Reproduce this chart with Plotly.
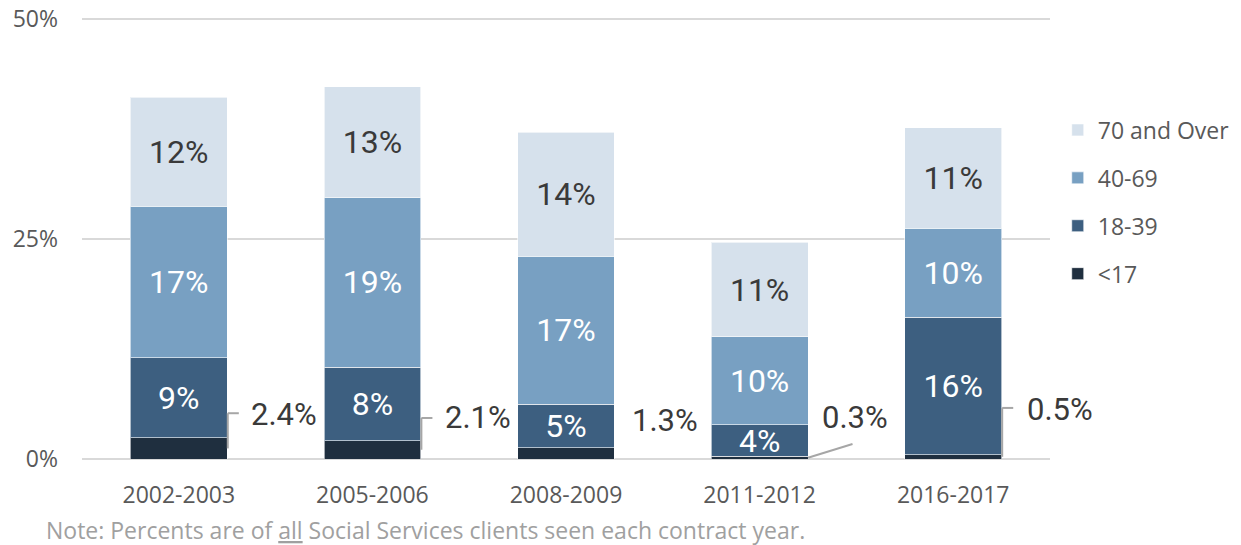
import plotly.graph_objects as go

years = ["2002-2003", "2005-2006", "2008-2009", "2011-2012", "2016-2017"]
under17 = [2.4, 2.1, 1.3, 0.3, 0.5]
age18_39 = [9.1, 8.3, 4.9, 3.6, 15.6]
age40_69 = [17.2, 19.3, 16.8, 10.0, 10.1]
age70_over = [12.4, 12.6, 14.1, 10.7, 11.4]

lbl_under17 = ["2.4%", "2.1%", "1.3%", "0.3%", "0.5%"]
lbl_18_39 = ["9%", "8%", "5%", "4%", "16%"]
lbl_40_69 = ["17%", "19%", "17%", "10%", "10%"]
lbl_70 = ["12%", "13%", "14%", "11%", "11%"]

y_ticks = [0, 25, 50]
y_ticktext = ["0%", "25%", "50%"]

# callout layout (offsets from bar centre, in category units / % units)
callout_dx = [0.36, 0.367, 0.33, 0.31, 0.37]
callout_y = [5.1, 4.7, 4.4, 4.7, 5.6]
leader_style = ["elbow", "elbow", "none", "diag", "elbow"]
leader_top = [5.2, 4.66, None, 1.7, 5.8]

C_U17 = "#1f2f3f"
C_18 = "#3d5f80"
C_40 = "#78a0c2"
C_70 = "#d6e1ec"
LABEL_FONT = "Roboto, sans-serif"
BASE_FONT = "Open Sans, sans-serif"

fig = go.Figure()
series = [
    ("<17", under17, C_U17, None, None, 4),
    ("18-39", age18_39, C_18, lbl_18_39, "white", 3),
    ("40-69", age40_69, C_40, lbl_40_69, "white", 2),
    ("70 and Over", age70_over, C_70, lbl_70, "#3a3a3a", 1),
]
for name, vals, col, lbls, tcol, rank in series:
    fig.add_trace(go.Bar(
        x=years, y=vals, name=name, width=0.5,
        marker=dict(color=col, line=dict(width=1, color="rgba(255,255,255,0.6)")),
        text=lbls, textposition="inside" if lbls else "none",
        insidetextanchor="middle", constraintext="none",
        textfont=dict(family=LABEL_FONT, size=32, color=tcol or "white"),
        hoverinfo="skip", legendgroup=name, legendrank=rank,
    ))

for i in range(len(years)):
    fig.add_annotation(
        x=i + callout_dx[i], y=callout_y[i], xref="x", yref="y",
        text=lbl_under17[i], showarrow=False, xanchor="left", yanchor="middle",
        font=dict(family=LABEL_FONT, size=31, color="#3a3a3a"),
    )
    edge = i + 0.25
    line_style = dict(color="#a6a6a6", width=2)
    if leader_style[i] == "elbow":
        fig.add_shape(type="line", xref="x", yref="y", x0=edge + 0.003, x1=edge + 0.003,
                      y0=under17[i] / 2, y1=leader_top[i], line=line_style)
        fig.add_shape(type="line", xref="x", yref="y", x0=edge + 0.003, x1=edge + 0.06,
                      y0=leader_top[i], y1=leader_top[i], line=line_style)
    elif leader_style[i] == "diag":
        fig.add_shape(type="line", xref="x", yref="y", x0=edge, x1=edge + 0.23,
                      y0=under17[i] / 2, y1=leader_top[i], line=line_style)

fig.add_annotation(
    x=-0.039, y=-0.16, xref="paper", yref="paper", xanchor="left", yanchor="middle",
    text="Note: Percents are of <u>all</u> Social Services clients seen each contract year.",
    showarrow=False, font=dict(family=BASE_FONT, size=23, color="#a0a0a0"),
)

fig.update_layout(
    barmode="stack",
    width=1241, height=545,
    margin=dict(l=82, r=191, t=17, b=86, autoexpand=False),
    plot_bgcolor="white", paper_bgcolor="white",
    font=dict(family=BASE_FONT, size=23, color="#595959"),
    uniformtext=dict(minsize=30, mode="show"),
    showlegend=True,
    legend=dict(traceorder="grouped", x=1.008, y=0.793, xanchor="left", yanchor="top",
                font=dict(size=23, color="#595959"), tracegroupgap=15,
                bgcolor="rgba(0,0,0,0)"),
)
fig.update_yaxes(range=[0, 50.2], tickvals=y_ticks, ticktext=y_ticktext,
                 showgrid=True, gridcolor="#d9d9d9", gridwidth=2,
                 zeroline=True, zerolinecolor="#d9d9d9", zerolinewidth=2,
                 showline=False, ticks="", ticklabelstandoff=23, automargin=False,
                 tickfont=dict(size=23, color="#595959"))
fig.update_xaxes(range=[-0.5, 4.5], showgrid=False, showline=False, ticks="",
                 ticklabelstandoff=20, automargin=False,
                 tickfont=dict(size=23, color="#595959"))

fig.write_html("out.html", config={"displayModeBar": False},
               post_script="document.body.style.margin='0';")
